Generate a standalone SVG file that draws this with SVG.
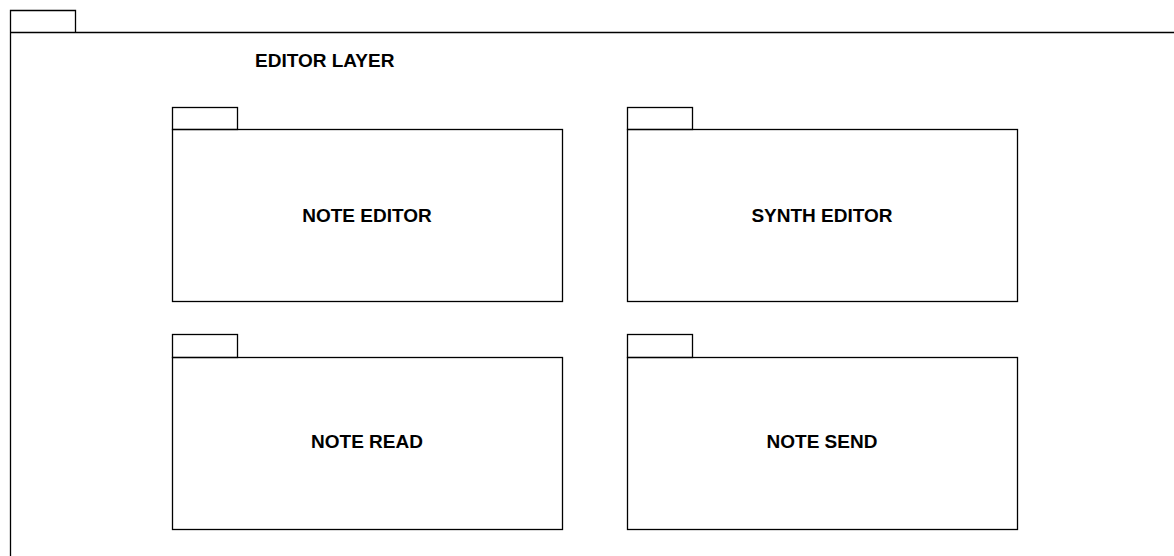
<svg xmlns="http://www.w3.org/2000/svg" width="1174" height="556" viewBox="0 0 1174 556">
<style>
.s{fill:none;stroke:#000;stroke-width:1.3}
.t{font-family:"Liberation Sans",Arial,sans-serif;font-weight:bold;font-size:19px;fill:#000}
.c{text-anchor:middle;dominant-baseline:central}
</style>
<rect width="1174" height="556" fill="#fff"/>
<g id="editor-layer">
<path class="s" d="M10.5 560 V10.5 H75.5 V32.5 M10.5 32.5 H1180"/>
<text class="t" x="255" y="67">EDITOR LAYER</text>
</g>
<g id="note-editor">
<rect class="s" x="172.5" y="107.5" width="65" height="22"/>
<rect class="s" x="172.5" y="129.5" width="390" height="172"/>
<text class="t c" x="367" y="215">NOTE EDITOR</text>
</g>
<g id="synth-editor">
<rect class="s" x="627.5" y="107.5" width="65" height="22"/>
<rect class="s" x="627.5" y="129.5" width="390" height="172"/>
<text class="t c" x="822" y="215">SYNTH EDITOR</text>
</g>
<g id="note-read">
<rect class="s" x="172.5" y="334.5" width="65" height="23"/>
<rect class="s" x="172.5" y="357.5" width="390" height="172"/>
<text class="t c" x="367" y="441">NOTE READ</text>
</g>
<g id="note-send">
<rect class="s" x="627.5" y="334.5" width="65" height="23"/>
<rect class="s" x="627.5" y="357.5" width="390" height="172"/>
<text class="t c" x="822" y="441">NOTE SEND</text>
</g>
<g id="connectors"/>
</svg>
